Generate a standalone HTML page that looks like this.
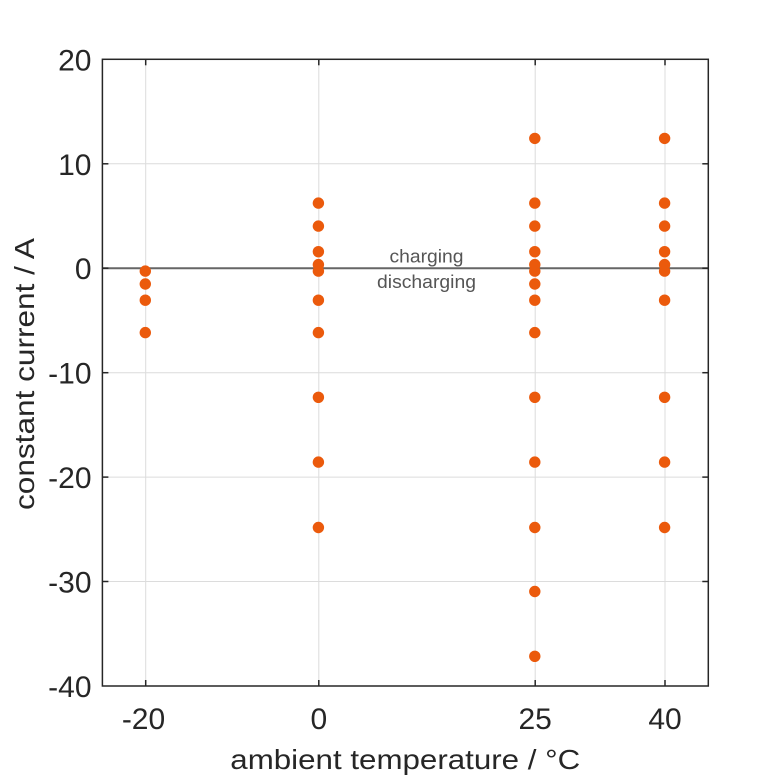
<!DOCTYPE html>
<html>
<head>
<meta charset="utf-8">
<style>
html,body{margin:0;padding:0;background:#fff;}
svg{display:block;}
text{font-family:"Liberation Sans",Arial,sans-serif;}
</style>
</head>
<body>
<svg width="781" height="781" viewBox="0 0 781 781" xmlns="http://www.w3.org/2000/svg">
<rect x="0" y="0" width="781" height="781" fill="#fff"/>
<!-- grid -->
<g stroke="#dcdcdc" stroke-width="1">
<line x1="145.7" y1="59.3" x2="145.7" y2="686"/>
<line x1="318.8" y1="59.3" x2="318.8" y2="686"/>
<line x1="535.2" y1="59.3" x2="535.2" y2="686"/>
<line x1="665.0" y1="59.3" x2="665.0" y2="686"/>
<line x1="102.4" y1="163.8" x2="708.3" y2="163.8"/>
<line x1="102.4" y1="372.7" x2="708.3" y2="372.7"/>
<line x1="102.4" y1="477.1" x2="708.3" y2="477.1"/>
<line x1="102.4" y1="581.5" x2="708.3" y2="581.5"/>
</g>
<!-- zero line -->
<line x1="102.4" y1="268.2" x2="708.3" y2="268.2" stroke="#666" stroke-width="2"/>
<!-- axes box -->
<rect x="102.4" y="59.3" width="605.9" height="626.7" fill="none" stroke="#262626" stroke-width="1.5"/>
<!-- ticks -->
<g stroke="#262626" stroke-width="1.5">
<line x1="145.7" y1="686" x2="145.7" y2="680"/>
<line x1="318.8" y1="686" x2="318.8" y2="680"/>
<line x1="535.2" y1="686" x2="535.2" y2="680"/>
<line x1="665.0" y1="686" x2="665.0" y2="680"/>
<line x1="145.7" y1="59.3" x2="145.7" y2="65.3"/>
<line x1="318.8" y1="59.3" x2="318.8" y2="65.3"/>
<line x1="535.2" y1="59.3" x2="535.2" y2="65.3"/>
<line x1="665.0" y1="59.3" x2="665.0" y2="65.3"/>
<line x1="102.4" y1="163.8" x2="108.4" y2="163.8"/>
<line x1="102.4" y1="268.2" x2="108.4" y2="268.2"/>
<line x1="102.4" y1="372.7" x2="108.4" y2="372.7"/>
<line x1="102.4" y1="477.1" x2="108.4" y2="477.1"/>
<line x1="102.4" y1="581.5" x2="108.4" y2="581.5"/>
<line x1="708.3" y1="163.8" x2="702.3" y2="163.8"/>
<line x1="708.3" y1="268.2" x2="702.3" y2="268.2"/>
<line x1="708.3" y1="372.7" x2="702.3" y2="372.7"/>
<line x1="708.3" y1="477.1" x2="702.3" y2="477.1"/>
<line x1="708.3" y1="581.5" x2="702.3" y2="581.5"/>
</g>
<!-- y tick labels -->
<g fill="#262626" font-size="30" text-anchor="end">
<text x="91.5" y="70.5">20</text>
<text x="91.5" y="174.8">10</text>
<text x="91.5" y="279.2">0</text>
<text x="91.5" y="383.7">-10</text>
<text x="91.5" y="488.1">-20</text>
<text x="91.5" y="592.5">-30</text>
<text x="91.5" y="697">-40</text>
</g>
<!-- x tick labels -->
<g fill="#262626" font-size="30" text-anchor="middle">
<text x="143.5" y="728.8">-20</text>
<text x="318.8" y="728.8">0</text>
<text x="535.2" y="728.8">25</text>
<text x="665.0" y="728.8">40</text>
</g>
<!-- axis labels -->
<text x="405.3" y="769" fill="#262626" font-size="28" text-anchor="middle" textLength="350" lengthAdjust="spacingAndGlyphs">ambient temperature / °C</text>
<text transform="translate(34,374) rotate(-90)" fill="#262626" font-size="28" text-anchor="middle" textLength="272" lengthAdjust="spacingAndGlyphs">constant current / A</text>
<!-- annotations -->
<text x="426.5" y="262.5" fill="#555" font-size="18" text-anchor="middle" textLength="74" lengthAdjust="spacingAndGlyphs">charging</text>
<text x="426.5" y="288" fill="#555" font-size="18" text-anchor="middle" textLength="99" lengthAdjust="spacingAndGlyphs">discharging</text>
<!-- data -->
<g fill="#EB5A0C">
<circle cx="145.3" cy="271.1" r="5.7"/>
<circle cx="145.3" cy="284" r="5.7"/>
<circle cx="145.3" cy="300.2" r="5.7"/>
<circle cx="145.3" cy="332.6" r="5.7"/>

<circle cx="318.4" cy="203.1" r="5.7"/>
<circle cx="318.4" cy="226.1" r="5.7"/>
<circle cx="318.4" cy="251.7" r="5.7"/>
<circle cx="318.4" cy="264.6" r="5.7"/>
<circle cx="318.4" cy="271.1" r="5.7"/>
<circle cx="318.4" cy="300.2" r="5.7"/>
<circle cx="318.4" cy="332.6" r="5.7"/>
<circle cx="318.4" cy="397.3" r="5.7"/>
<circle cx="318.4" cy="462.1" r="5.7"/>
<circle cx="318.4" cy="527.5" r="5.7"/>

<circle cx="534.8" cy="138.4" r="5.7"/>
<circle cx="534.8" cy="203.1" r="5.7"/>
<circle cx="534.8" cy="226.1" r="5.7"/>
<circle cx="534.8" cy="251.7" r="5.7"/>
<circle cx="534.8" cy="264.6" r="5.7"/>
<circle cx="534.8" cy="271.1" r="5.7"/>
<circle cx="534.8" cy="284" r="5.7"/>
<circle cx="534.8" cy="300.2" r="5.7"/>
<circle cx="534.8" cy="332.6" r="5.7"/>
<circle cx="534.8" cy="397.3" r="5.7"/>
<circle cx="534.8" cy="462.1" r="5.7"/>
<circle cx="534.8" cy="527.5" r="5.7"/>
<circle cx="534.8" cy="591.5" r="5.7"/>
<circle cx="534.8" cy="656.3" r="5.7"/>

<circle cx="664.6" cy="138.4" r="5.7"/>
<circle cx="664.6" cy="203.1" r="5.7"/>
<circle cx="664.6" cy="226.1" r="5.7"/>
<circle cx="664.6" cy="251.7" r="5.7"/>
<circle cx="664.6" cy="264.6" r="5.7"/>
<circle cx="664.6" cy="271.1" r="5.7"/>
<circle cx="664.6" cy="300.2" r="5.7"/>
<circle cx="664.6" cy="397.3" r="5.7"/>
<circle cx="664.6" cy="462.1" r="5.7"/>
<circle cx="664.6" cy="527.5" r="5.7"/>
</g>
</svg>
</body>
</html>
